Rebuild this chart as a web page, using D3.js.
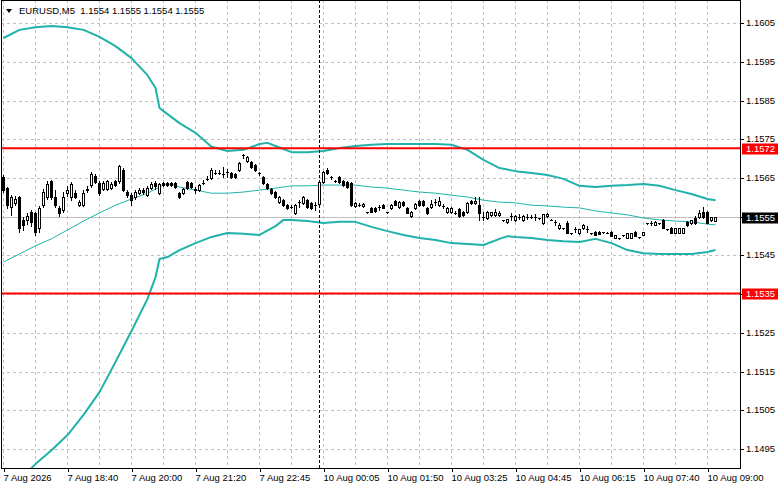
<!DOCTYPE html>
<html>
<head>
<meta charset="utf-8">
<script src="https://cdn.jsdelivr.net/npm/d3@7"></script>
<style>
  body { margin: 0; background: #fff; }
  svg { display: block; }
  text { font-family: "Liberation Sans", Arial, sans-serif; font-size: 9.5px; }
</style>
</head>
<body>
<svg id="chart"></svg>
<script>
const symbol = 'EURUSD,M5';

// time axis labels and the bar they sit on
const xLabels = ['7 Aug 2026', '7 Aug 18:40', '7 Aug 20:00', '7 Aug 21:20', '7 Aug 22:45',
  '10 Aug 00:05', '10 Aug 01:50', '10 Aug 03:25', '10 Aug 04:45', '10 Aug 06:15',
  '10 Aug 07:40', '10 Aug 09:00'];
const xLabelBars = [0, 16, 32, 48, 64, 80, 96, 112, 128, 144, 160, 176];
const separatorBar = 79; // first bar of 10 Aug

const yTicks = [1.1605, 1.1595, 1.1585, 1.1575, 1.1565, 1.1555, 1.1545, 1.1535, 1.1525, 1.1515, 1.1505, 1.1495];

// horizontal levels
const levels = [1.15727, 1.15352];
const levelLabels = ['1.1572', '1.1535'];
const lastPrice = 1.1555;

// [open, high, low, close]
const bars = [
  [1.15653,1.15659,1.15615,1.15620],[1.15625,1.15628,1.15573,1.15581],[1.15576,1.15607,1.15555,1.15602],
  [1.15586,1.15604,1.15581,1.15597],[1.15602,1.15604,1.15511,1.15522],[1.15542,1.15550,1.15516,1.15529],
  [1.15542,1.15560,1.15532,1.15553],[1.15563,1.15568,1.15527,1.15537],[1.15560,1.15563,1.15503,1.15511],
  [1.15522,1.15578,1.15511,1.15573],[1.15581,1.15622,1.15576,1.15615],[1.15602,1.15643,1.15597,1.15635],
  [1.15643,1.15646,1.15597,1.15602],[1.15602,1.15620,1.15576,1.15581],[1.15573,1.15578,1.15553,1.15560],
  [1.15568,1.15615,1.15563,1.15602],[1.15612,1.15630,1.15604,1.15620],[1.15602,1.15640,1.15594,1.15635],
  [1.15612,1.15620,1.15599,1.15602],[1.15581,1.15594,1.15578,1.15589],[1.15581,1.15620,1.15578,1.15612],
  [1.15620,1.15630,1.15615,1.15622],[1.15633,1.15666,1.15628,1.15661],[1.15656,1.15661,1.15638,1.15640],
  [1.15638,1.15643,1.15607,1.15612],[1.15622,1.15643,1.15620,1.15638],[1.15622,1.15646,1.15620,1.15643],
  [1.15625,1.15640,1.15622,1.15635],[1.15643,1.15646,1.15630,1.15633],[1.15643,1.15684,1.15638,1.15682],
  [1.15671,1.15677,1.15617,1.15620],[1.15615,1.15620,1.15602,1.15607],[1.15607,1.15612,1.15581,1.15594],
  [1.15602,1.15620,1.15597,1.15615],[1.15612,1.15625,1.15609,1.15620],[1.15620,1.15625,1.15609,1.15615],
  [1.15607,1.15630,1.15604,1.15625],[1.15625,1.15640,1.15622,1.15635],[1.15638,1.15643,1.15622,1.15630],
  [1.15612,1.15638,1.15609,1.15635],[1.15638,1.15640,1.15630,1.15633],[1.15638,1.15640,1.15630,1.15633],
  [1.15638,1.15640,1.15630,1.15633],[1.15638,1.15640,1.15625,1.15628],[1.15612,1.15615,1.15599,1.15602],
  [1.15612,1.15625,1.15609,1.15622],[1.15640,1.15643,1.15622,1.15625],[1.15638,1.15640,1.15625,1.15628],
  [1.15622,1.15628,1.15612,1.15620],[1.15620,1.15635,1.15617,1.15633],[1.15638,1.15646,1.15635,1.15638],
  [1.15648,1.15656,1.15646,1.15648],[1.15651,1.15677,1.15648,1.15671],[1.15664,1.15671,1.15661,1.15664],
  [1.15664,1.15671,1.15661,1.15664],[1.15661,1.15679,1.15653,1.15661],[1.15666,1.15674,1.15653,1.15666],
  [1.15664,1.15666,1.15651,1.15653],[1.15661,1.15664,1.15651,1.15653],[1.15671,1.15692,1.15669,1.15690],
  [1.15710,1.15713,1.15703,1.15710],[1.15694,1.15708,1.15692,1.15705],[1.15692,1.15694,1.15677,1.15679],
  [1.15684,1.15687,1.15669,1.15671],[1.15664,1.15666,1.15659,1.15664],[1.15653,1.15656,1.15635,1.15638],
  [1.15635,1.15638,1.15622,1.15625],[1.15622,1.15625,1.15609,1.15612],[1.15615,1.15617,1.15599,1.15602],
  [1.15589,1.15604,1.15586,1.15602],[1.15594,1.15597,1.15578,1.15581],[1.15581,1.15584,1.15571,1.15573],
  [1.15576,1.15581,1.15573,1.15576],[1.15560,1.15584,1.15558,1.15581],[1.15589,1.15594,1.15576,1.15589],
  [1.15586,1.15604,1.15584,1.15602],[1.15594,1.15597,1.15573,1.15576],[1.15586,1.15589,1.15571,1.15573],
  [1.15581,1.15589,1.15568,1.15581],[1.15584,1.15643,1.15576,1.15640],[1.15640,1.15669,1.15638,1.15666],
  [1.15671,1.15677,1.15661,1.15664],[1.15653,1.15656,1.15648,1.15653],[1.15643,1.15646,1.15640,1.15643],
  [1.15653,1.15656,1.15638,1.15640],[1.15643,1.15646,1.15630,1.15633],[1.15640,1.15643,1.15625,1.15628],
  [1.15638,1.15640,1.15578,1.15581],[1.15578,1.15589,1.15576,1.15586],[1.15581,1.15586,1.15578,1.15581],
  [1.15578,1.15586,1.15576,1.15584],[1.15563,1.15563,1.15560,1.15563],[1.15573,1.15576,1.15563,1.15563],
  [1.15573,1.15576,1.15563,1.15566],[1.15576,1.15581,1.15568,1.15576],[1.15581,1.15584,1.15573,1.15573],
  [1.15563,1.15563,1.15560,1.15563],[1.15573,1.15584,1.15571,1.15581],[1.15591,1.15594,1.15581,1.15581],
  [1.15576,1.15591,1.15573,1.15589],[1.15589,1.15591,1.15578,1.15581],[1.15573,1.15576,1.15560,1.15560],
  [1.15553,1.15566,1.15550,1.15563],[1.15573,1.15586,1.15571,1.15584],[1.15591,1.15594,1.15578,1.15581],
  [1.15591,1.15594,1.15578,1.15581],[1.15573,1.15576,1.15558,1.15560],[1.15576,1.15594,1.15573,1.15584],
  [1.15589,1.15597,1.15581,1.15589],[1.15581,1.15602,1.15578,1.15591],[1.15578,1.15584,1.15573,1.15578],
  [1.15563,1.15576,1.15560,1.15573],[1.15563,1.15576,1.15560,1.15573],[1.15560,1.15566,1.15558,1.15560],
  [1.15571,1.15573,1.15550,1.15553],[1.15563,1.15566,1.15553,1.15555],[1.15563,1.15589,1.15560,1.15586],
  [1.15591,1.15594,1.15584,1.15586],[1.15586,1.15602,1.15584,1.15591],[1.15581,1.15602,1.15542,1.15560],
  [1.15550,1.15563,1.15542,1.15550],[1.15548,1.15566,1.15545,1.15563],[1.15555,1.15563,1.15553,1.15563],
  [1.15555,1.15571,1.15553,1.15563],[1.15555,1.15566,1.15553,1.15560],[1.15542,1.15542,1.15540,1.15542],
  [1.15537,1.15545,1.15534,1.15545],[1.15553,1.15560,1.15542,1.15553],[1.15542,1.15555,1.15540,1.15553],
  [1.15550,1.15558,1.15545,1.15550],[1.15542,1.15555,1.15540,1.15553],[1.15550,1.15558,1.15545,1.15550],
  [1.15550,1.15555,1.15548,1.15550],[1.15550,1.15558,1.15542,1.15550],[1.15548,1.15548,1.15545,1.15548],
  [1.15534,1.15558,1.15532,1.15558],[1.15553,1.15560,1.15550,1.15558],[1.15542,1.15545,1.15542,1.15542],
  [1.15537,1.15542,1.15529,1.15537],[1.15522,1.15534,1.15519,1.15529],[1.15522,1.15522,1.15519,1.15522],
  [1.15534,1.15540,1.15509,1.15509],[1.15509,1.15509,1.15506,1.15509],[1.15519,1.15524,1.15511,1.15519],
  [1.15509,1.15519,1.15506,1.15519],[1.15522,1.15532,1.15519,1.15529],[1.15519,1.15527,1.15511,1.15519],
  [1.15509,1.15509,1.15506,1.15509],[1.15511,1.15514,1.15503,1.15503],[1.15511,1.15514,1.15506,1.15506],
  [1.15511,1.15511,1.15509,1.15511],[1.15509,1.15511,1.15509,1.15509],[1.15511,1.15514,1.15501,1.15501],
  [1.15496,1.15503,1.15496,1.15503],[1.15496,1.15496,1.15493,1.15496],[1.15503,1.15503,1.15501,1.15503],
  [1.15496,1.15509,1.15496,1.15509],[1.15496,1.15509,1.15496,1.15509],[1.15511,1.15514,1.15501,1.15501],
  [1.15498,1.15498,1.15496,1.15498],[1.15503,1.15511,1.15503,1.15511],[1.15534,1.15534,1.15532,1.15534],
  [1.15534,1.15540,1.15529,1.15534],[1.15529,1.15540,1.15529,1.15537],[1.15534,1.15534,1.15532,1.15534],
  [1.15542,1.15545,1.15522,1.15522],[1.15519,1.15519,1.15516,1.15519],[1.15522,1.15524,1.15509,1.15509],
  [1.15509,1.15522,1.15509,1.15522],[1.15509,1.15522,1.15509,1.15522],[1.15509,1.15522,1.15509,1.15522],
  [1.15537,1.15540,1.15527,1.15529],[1.15534,1.15542,1.15532,1.15542],[1.15548,1.15553,1.15532,1.15534],
  [1.15550,1.15568,1.15548,1.15560],[1.15563,1.15576,1.15548,1.15550],[1.15563,1.15566,1.15534,1.15534],
  [1.15542,1.15550,1.15540,1.15550],[1.15540,1.15550,1.15540,1.15550]
];

// Bollinger bands, [bar, price]
const upperBand = [
  [0,1.16012],[4,1.16033],[8,1.16040],[12,1.16043],[16,1.16040],[20,1.16033],[24,1.16015],[28,1.15991],
  [32,1.15960],[36,1.15916],[38,1.15883],[39,1.15831],[40,1.15823],[44,1.15792],[48,1.15767],[52,1.15731],
  [56,1.15720],[60,1.15723],[64,1.15738],[66,1.15741],[68,1.15733],[72,1.15717],[76,1.15717],[80,1.15720],
  [84,1.15728],[88,1.15733],[92,1.15736],[96,1.15738],[100,1.15738],[104,1.15738],[108,1.15738],[112,1.15736],
  [116,1.15723],[120,1.15697],[124,1.15676],[128,1.15668],[132,1.15663],[136,1.15658],[140,1.15648],[144,1.15630],
  [148,1.15627],[152,1.15630],[156,1.15632],[160,1.15635],[164,1.15630],[168,1.15619],[172,1.15609],[176,1.15596],
  [178,1.15593]
];
const middleBand = [
  [0,1.15433],[4,1.15454],[8,1.15475],[12,1.15493],[16,1.15516],[20,1.15539],[24,1.15560],[28,1.15580],
  [32,1.15596],[36,1.15611],[40,1.15632],[42,1.15635],[44,1.15627],[48,1.15619],[52,1.15611],[56,1.15611],
  [60,1.15614],[64,1.15619],[68,1.15624],[72,1.15630],[76,1.15630],[80,1.15632],[84,1.15632],[88,1.15632],
  [92,1.15627],[96,1.15624],[100,1.15619],[104,1.15614],[108,1.15611],[112,1.15606],[116,1.15601],[120,1.15593],
  [124,1.15588],[128,1.15586],[132,1.15580],[136,1.15578],[140,1.15575],[144,1.15573],[148,1.15565],[152,1.15560],
  [156,1.15555],[160,1.15547],[164,1.15542],[168,1.15539],[172,1.15537],[176,1.15531],[178,1.15529]
];
const lowerBand = [
  [0,1.14818],[4,1.14870],[8,1.14911],[12,1.14947],[16,1.14986],[20,1.15038],[24,1.15097],[28,1.15175],
  [32,1.15255],[36,1.15338],[38,1.15394],[39,1.15441],[41,1.15446],[44,1.15464],[48,1.15482],[52,1.15498],
  [56,1.15508],[60,1.15506],[64,1.15503],[68,1.15526],[70,1.15542],[72,1.15542],[76,1.15539],[80,1.15534],
  [84,1.15537],[88,1.15537],[92,1.15524],[96,1.15513],[100,1.15503],[104,1.15495],[108,1.15490],[112,1.15482],
  [116,1.15480],[120,1.15477],[124,1.15493],[126,1.15500],[128,1.15498],[132,1.15495],[136,1.15490],[140,1.15487],
  [144,1.15485],[148,1.15493],[152,1.15482],[156,1.15464],[160,1.15456],[164,1.15454],[168,1.15454],[172,1.15454],
  [176,1.15459],[178,1.15464]
];

const width = 781, height = 489;
const plot = { left: 1, right: 740, top: 0, bottom: 468 };
const teal = '#20b2aa';

const svg = d3.select('#chart')
  .attr('width', width)
  .attr('height', height);

svg.append('rect').attr('width', width).attr('height', height).attr('fill', '#fff');

// 4px per bar, bar 0 centred on pixel 3
const x = d3.scaleLinear().domain([0, 1]).range([3.5, 7.5]);
const y = d3.scaleLinear().domain([1.1495, 1.1605]).range([449, 23.3]);
const py = v => Math.round(y(v)) + 0.5;

svg.append('clipPath').attr('id', 'plotclip')
  .append('rect')
  .attr('x', plot.left).attr('y', plot.top)
  .attr('width', plot.right - plot.left).attr('height', plot.bottom - plot.top);

// grid
const grid = svg.append('g')
  .attr('stroke', '#c0c0c0')
  .attr('stroke-dasharray', '3,3')
  .attr('shape-rendering', 'crispEdges');

grid.selectAll('line.h')
  .data(yTicks)
  .enter().append('line')
  .attr('x1', plot.left).attr('x2', plot.right)
  .attr('y1', d => py(d)).attr('y2', d => py(d));

grid.selectAll('line.v')
  .data(d3.range(0, bars.length, 8))
  .enter().append('line')
  .attr('x1', d => x(d)).attr('x2', d => x(d))
  .attr('y1', plot.top).attr('y2', plot.bottom);

const body = svg.append('g').attr('clip-path', 'url(#plotclip)');

// current price line
body.append('line')
  .attr('x1', plot.left).attr('x2', plot.right)
  .attr('y1', py(lastPrice)).attr('y2', py(lastPrice))
  .attr('stroke', '#c0c0c0')
  .attr('shape-rendering', 'crispEdges');

// Bollinger bands
const bandLine = d3.line().x(d => x(d[0])).y(d => y(d[1]));

body.append('path').datum(middleBand)
  .attr('d', bandLine).attr('fill', 'none')
  .attr('stroke', teal).attr('stroke-width', 1);

[upperBand, lowerBand].forEach(band => {
  body.append('path').datum(band)
    .attr('d', bandLine).attr('fill', 'none')
    .attr('stroke', teal).attr('stroke-width', 2)
    .attr('stroke-linejoin', 'round');
});

// period separator
body.append('line')
  .attr('x1', x(separatorBar)).attr('x2', x(separatorBar))
  .attr('y1', plot.top).attr('y2', plot.bottom)
  .attr('stroke', '#000')
  .attr('stroke-dasharray', '3,2')
  .attr('shape-rendering', 'crispEdges');

// candles
const candles = body.append('g')
  .attr('shape-rendering', 'crispEdges')
  .selectAll('g')
  .data(bars)
  .enter().append('g');

candles.append('line')
  .attr('x1', (d, i) => x(i)).attr('x2', (d, i) => x(i))
  .attr('y1', d => Math.round(y(d[1])))
  .attr('y2', d => Math.round(y(d[2])) + 1)
  .attr('stroke', '#000');

candles.each(function (d, i) {
  const g = d3.select(this);
  const yo = Math.round(y(d[0])), yc = Math.round(y(d[3]));
  const top = Math.min(yo, yc), bot = Math.max(yo, yc);
  if (top === bot) {
    g.append('line')
      .attr('x1', x(i) - 1.5).attr('x2', x(i) + 1.5)
      .attr('y1', top + 0.5).attr('y2', top + 0.5)
      .attr('stroke', '#000');
  } else {
    g.append('rect')
      .attr('x', x(i) - 1).attr('width', 2)
      .attr('y', top + 0.5).attr('height', bot - top)
      .attr('fill', d[3] >= d[0] ? '#fff' : '#000')
      .attr('stroke', '#000');
  }
});

// horizontal levels
body.selectAll('line.level')
  .data(levels)
  .enter().append('line')
  .attr('x1', plot.left).attr('x2', plot.right)
  .attr('y1', d => y(d)).attr('y2', d => y(d))
  .attr('stroke', '#ff0000').attr('stroke-width', 2);

// frame
svg.append('rect')
  .attr('x', plot.left + 0.5).attr('y', plot.top + 0.5)
  .attr('width', plot.right - plot.left).attr('height', plot.bottom - plot.top)
  .attr('fill', 'none').attr('stroke', '#000')
  .attr('shape-rendering', 'crispEdges');

// price axis
const yAxis = svg.append('g')
  .attr('transform', `translate(${plot.right},0)`)
  .call(d3.axisRight(y).tickValues(yTicks).tickSize(4).tickFormat(d3.format('.4f')));
yAxis.select('.domain').remove();
yAxis.selectAll('line').attr('transform', 'translate(0,0.5)').attr('shape-rendering', 'crispEdges');
yAxis.selectAll('.tick').attr('transform', d => `translate(0,${Math.round(y(d))})`);
yAxis.selectAll('text').attr('x', 6).attr('font-family', null).attr('font-size', null).attr('fill', '#000');

// time axis
const xAxis = svg.append('g')
  .attr('transform', `translate(0,${plot.bottom})`)
  .call(d3.axisBottom(x).tickValues(xLabelBars).tickSize(4).tickFormat((d, i) => xLabels[i]));
xAxis.select('.domain').remove();
xAxis.selectAll('line').attr('shape-rendering', 'crispEdges');
xAxis.selectAll('text')
  .attr('text-anchor', 'start').attr('x', -0.5).attr('y', 6)
  .attr('font-family', null).attr('font-size', null).attr('fill', '#000');

// price labels on the axis
const tags = levels.map((v, i) => ({ v, label: levelLabels[i], bg: '#ff0000' }))
  .concat([{ v: lastPrice, label: lastPrice.toFixed(4), bg: '#000' }]);

const tag = svg.selectAll('g.tag')
  .data(tags)
  .enter().append('g')
  .attr('transform', d => `translate(${plot.right + 2},${Math.round(y(d.v))})`);

tag.append('rect')
  .attr('x', 0).attr('y', -4.5)
  .attr('width', 36).attr('height', 11)
  .attr('fill', d => d.bg);

tag.append('text')
  .attr('x', 4).attr('y', 1).attr('dy', '0.34em')
  .attr('fill', '#fff')
  .text(d => d.label);

// header
const last = bars[bars.length - 1];
svg.append('path')
  .attr('d', 'M6,9 L12,9 L9,13 Z')
  .attr('fill', '#000');
svg.append('text')
  .attr('x', 19).attr('y', 14)
  .attr('fill', '#000')
  .text(`${symbol}  ${last.map(v => v.toFixed(4)).join(' ')}`)
  .style('white-space', 'pre');
</script>
</body>
</html>
